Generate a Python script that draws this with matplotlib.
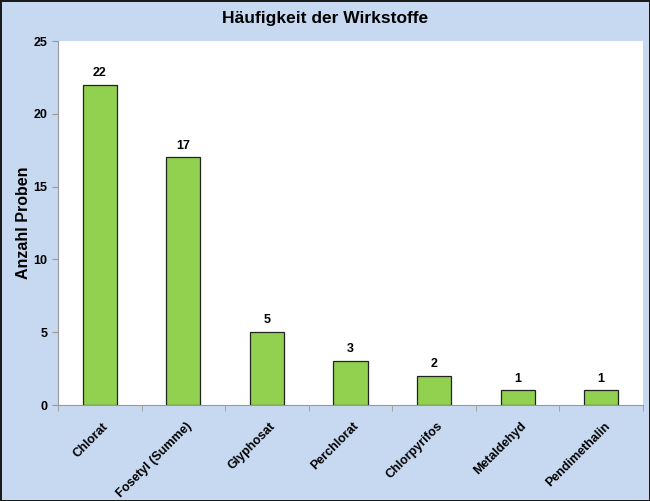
import numpy as np
import matplotlib.pyplot as plt

plt.rcParams["font.family"] = ["Liberation Sans", "DejaVu Sans"]

substances = ["Chlorat", "Fosetyl (Summe)", "Glyphosat", "Perchlorat",
              "Chlorpyrifos", "Metaldehyd", "Pendimethalin"]
counts = [22, 17, 5, 3, 2, 1, 1]

bg = "#C6D9F1"
fig = plt.figure(figsize=(6.5, 5.01), dpi=100, facecolor=bg,
                 edgecolor="#1a1a1a", linewidth=2)
ax = fig.add_axes([58 / 650, 1 - 405 / 501, 585 / 650, 364 / 501])
ax.set_facecolor("white")

x = np.arange(len(substances))
ax.bar(x, counts, width=0.41, color="#92D050", edgecolor="#222222", lw=0.9, zorder=3)
for xi, v in zip(x, counts):
    ax.text(xi, v + 0.4, str(v), ha="center", va="bottom",
            fontsize=9, fontweight="bold")

ax.set_xlim(-0.5, len(substances) - 0.5)
ax.set_ylim(0, 25)
ax.set_yticks([0, 5, 10, 15, 20, 25])
ax.set_xticks(x + 0.03)
ax.set_xticklabels(substances, rotation=45, ha="right", rotation_mode="anchor",
                   fontsize=9, fontweight="bold")
ax.set_xticks(np.arange(len(substances) + 1) - 0.5, minor=True)
ax.tick_params(axis="x", which="major", length=0, pad=11)
ax.tick_params(axis="x", which="minor", length=4, color="#999999")
ax.tick_params(axis="y", length=4, color="#999999", labelsize=9)
for lab in ax.get_yticklabels():
    lab.set_fontweight("bold")

for s in ["top", "right"]:
    ax.spines[s].set_visible(False)
for s in ["left", "bottom"]:
    ax.spines[s].set_color("#999999")

ax.set_ylabel("Anzahl Proben", fontsize=11.5, fontweight="bold", labelpad=2)
fig.text(0.5, 1 - 18 / 501, "Häufigkeit der Wirkstoffe", ha="center", va="center",
         fontsize=12.5, fontweight="bold")

fig.savefig("out.png", dpi=100, facecolor=bg, edgecolor="#1a1a1a")
